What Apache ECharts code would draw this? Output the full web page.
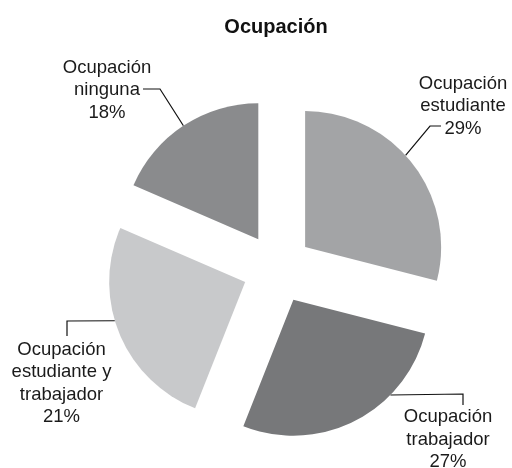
<!DOCTYPE html>
<html>
<head>
<meta charset="utf-8">
<script src="https://cdn.jsdelivr.net/npm/echarts@6/dist/echarts.min.js"></script>
<style>
html,body{margin:0;padding:0;background:#fff;}
#c{width:512px;height:468px;}
</style>
</head>
<body>
<div id="c"></div>
<script>
// Data
var categories = ['Ocupación\nestudiante', 'Ocupación\ntrabajador', 'Ocupación\nestudiante y\ntrabajador', 'Ocupación\nninguna'];
var sliceValues = [29, 27, 25.5, 18.5];     // slice sizes as drawn
var shownPercent = ['29%', '27%', '21%', '18%']; // percentages as printed
var sliceColors = ['#a3a4a6', '#77787a', '#c8c9cb', '#8a8b8d'];

// Layout settings
var CENTER = [277.5, 268.5];
var RADIUS = 136;
var OFFSET = 35;
var FONT = 'Liberation Sans, Arial, sans-serif';
// label placement: text centre, leader start angle (deg, clockwise from top), elbow, end
var labelCfg = [
  { x: 463, y: 106, lead: 47.6,  elbow: [430, 126], end: [441, 126] },
  { x: 448, y: 439.5, lead: 134.5, elbow: [463, 394], end: [463, 405] },
  { x: 61.5, y: 383.5, lead: 253.4, elbow: [67, 321], end: [67, 336] },
  { x: 107, y: 90, lead: 326.6, elbow: [160, 89], end: [143, 89] }
];

var total = sliceValues.reduce(function (a, b) { return a + b; }, 0);
var cum = [];
(function () { var s = 0; for (var i = 0; i < sliceValues.length; i++) { cum.push(s); s += sliceValues[i]; } })();

function leadPoint(i) {
  var bis = (cum[i] + sliceValues[i] / 2) / total * 2 * Math.PI;
  var cx = CENTER[0] + OFFSET * Math.sin(bis);
  var cy = CENTER[1] - OFFSET * Math.cos(bis);
  var a = labelCfg[i].lead * Math.PI / 180;
  return [cx + RADIUS * Math.sin(a), cy - RADIUS * Math.cos(a)];
}

var graphics = [];
categories.forEach(function (name, i) {
  var cfg = labelCfg[i];
  graphics.push({
    type: 'polyline', silent: true,
    shape: { points: [leadPoint(i), cfg.elbow, cfg.end] },
    style: { stroke: '#111', lineWidth: 1.2, fill: null }
  });
  graphics.push({
    type: 'text', silent: true, x: cfg.x, y: cfg.y,
    style: {
      text: name + '\n' + shownPercent[i],
      align: 'center', verticalAlign: 'middle',
      font: '18.5px ' + FONT, lineHeight: 22.5, fill: '#1a1a1a'
    }
  });
});

var chart = echarts.init(document.getElementById('c'), null, { renderer: 'canvas' });
chart.setOption({
  backgroundColor: '#ffffff',
  animation: false,
  title: {
    text: 'Ocupación',
    left: 271, top: 12, textAlign: 'center',
    textStyle: { fontFamily: FONT, fontSize: 20, fontWeight: 'bold', color: '#111' }
  },
  series: [{
    type: 'pie',
    center: CENTER,
    radius: RADIUS,
    startAngle: 90,
    clockwise: true,
    selectedMode: 'multiple',
    selectedOffset: OFFSET,
    emphasis: { disabled: true },
    itemStyle: { borderWidth: 0 },
    label: { show: false },
    labelLine: { show: false },
    data: categories.map(function (n, i) {
      return { name: n, value: sliceValues[i], selected: true, itemStyle: { color: sliceColors[i] } };
    })
  }],
  graphic: graphics
});
</script>
</body>
</html>
